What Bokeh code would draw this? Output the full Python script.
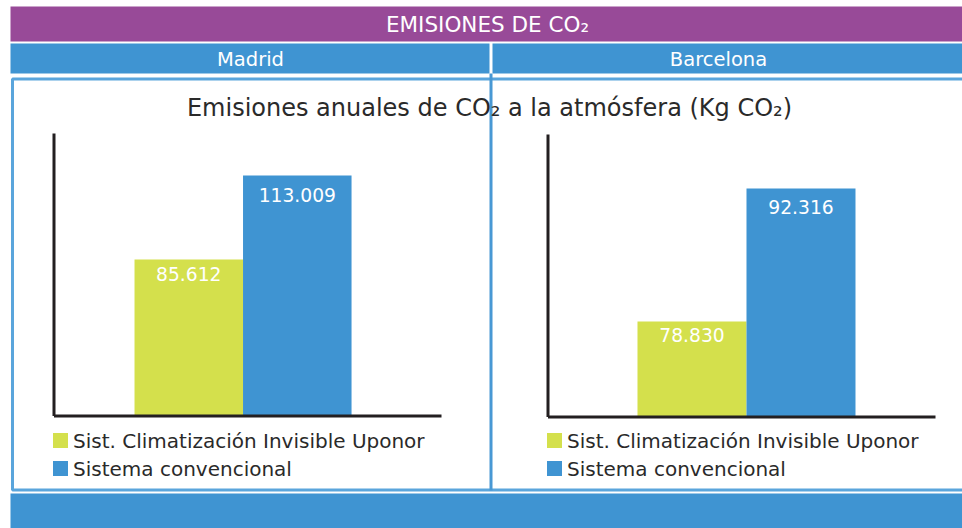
from bokeh.plotting import figure
from bokeh.models import Range1d
from bokeh.core.properties import value
from bokeh.embed import file_html
from bokeh.resources import INLINE

# ---------------- data ----------------
TITLE = "EMISIONES DE CO\u2082"
SUBTITLE = "Emisiones anuales de CO\u2082 a la atmósfera (Kg CO\u2082)"
CITIES = ["Madrid", "Barcelona"]
SERIES = ["Sist. Climatización Invisible Uponor", "Sistema convencional"]
MADRID = [85612, 113009]
BARCELONA = [78830, 92316]

# ---------------- style ----------------
PURPLE = "#984a98"
BLUE = "#3f94d2"
GREEN = "#d4e04c"
DARK = "#231f20"
TXT = "#2a2a2a"
FONT = value("DejaVu Sans")

W, H = 962, 528
X0, Y0 = 0, 0  # screen offset of the figure

p = figure(width=W, height=H, output_backend="svg", toolbar_location=None,
           x_range=Range1d(X0, X0 + W), y_range=Range1d(Y0 + H, Y0),
           min_border=0, outline_line_color=None)
p.axis.visible = False
p.grid.visible = False
p.background_fill_color = "white"
p.border_fill_color = "white"

# header bars
p.quad(left=10, right=970, top=6, bottom=41, fill_color=PURPLE, line_color=None)
p.quad(left=10, right=489, top=43, bottom=73, fill_color=BLUE, line_color=None)
p.quad(left=492, right=970, top=43, bottom=73, fill_color=BLUE, line_color=None)
p.quad(left=10, right=970, top=493, bottom=540, fill_color=BLUE, line_color=None)
# frame
p.quad(left=12, right=975, top=78.5, bottom=489.5, fill_color=None,
       line_color="#5aa5dc", line_width=3)
p.segment(x0=490.5, y0=73, x1=490.5, y1=490, line_color="#4898d4", line_width=3)

p.text(x=[487], y=[24], text=[TITLE], text_color="white", text_font=FONT,
       text_font_size="21.5px", text_align="center", text_baseline="middle")
p.text(x=[250, 718], y=[59, 59], text=CITIES, text_color="white", text_font=FONT,
       text_font_size="19.5px", text_align="center", text_baseline="middle")
p.text(x=[489], y=[107], text=[SUBTITLE], text_color=TXT, text_font=FONT,
       text_font_size="24px", text_align="center", text_baseline="middle")

def label(v):
    return f"{v:,}".replace(",", ".")

def add_panel(name, vals, box, xlim, ylim):
    PL, PR, PT, PB = box
    xl, xr = xlim
    y0, y1 = ylim
    sx = (xr - xl) / (PR - PL)
    sy = (y1 - y0) / (PB - PT)
    p.extra_x_ranges[name + "_x"] = Range1d(xl - (PL - X0) * sx, xr + (X0 + W - PR) * sx)
    p.extra_y_ranges[name + "_y"] = Range1d(y0 - (Y0 + H - PB) * sy, y1 + (PT - Y0) * sy)
    kw = dict(x_range_name=name + "_x", y_range_name=name + "_y")
    xs = list(range(len(vals)))
    p.vbar(x=xs, top=vals, bottom=y0, width=1.0, fill_color=[GREEN, BLUE],
           line_color=None, **kw)
    offs = [14, 19]
    for i, v in enumerate(vals):
        p.text(x=[i], y=[v], text=[label(v)], text_color="white", text_font=FONT,
               text_font_size="18.7px", text_align="center", text_baseline="middle",
               y_offset=offs[i], **kw)
    p.segment(x0=[xl, xl], y0=[y0, y0], x1=[xl, xr], y1=[y1, y0],
              line_color=DARK, line_width=3, **kw)
    # legend
    lx = PL
    for j, (s, c) in enumerate(zip(SERIES, [GREEN, BLUE])):
        yc = 440 + 28 * j
        p.quad(left=lx - 1, right=lx + 14, top=yc - 7.5, bottom=yc + 7.5,
               fill_color=c, line_color=None)
        p.text(x=[lx + 19], y=[yc], text=[s], text_color=TXT, text_font=FONT,
               text_font_size="20px", text_align="left", text_baseline="middle")

add_panel("mad", MADRID, (53.5, 441, 133, 415.5), (-1.242, 2.329), (34569, 126708))
add_panel("bcn", BARCELONA, (547.5, 935, 134, 416.5), (-1.321, 2.234), (69146, 97791))

open("out.html", "w").write(file_html(p, INLINE))
